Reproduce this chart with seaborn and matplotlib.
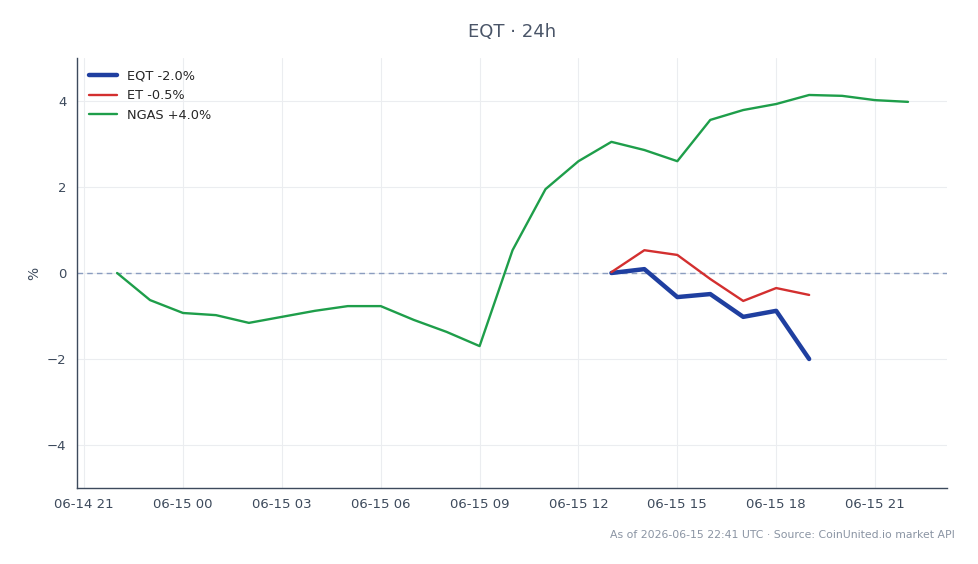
import pandas as pd
import numpy as np
import matplotlib.pyplot as plt
import matplotlib.dates as mdates
import seaborn as sns

# --- Data (hourly % change) ---
NGAS_START = "2026-06-14 22:00"
NGAS_VALUES = [0.0, -0.63, -0.93, -0.98, -1.16, -1.02, -0.88, -0.77, -0.77,
               -1.09, -1.37, -1.70, 0.53, 1.95, 2.60, 3.05, 2.86, 2.60,
               3.56, 3.79, 3.93, 4.14, 4.12, 4.02, 3.98]

PEER_START = "2026-06-15 13:00"
EQT_VALUES = [0.0, 0.09, -0.56, -0.49, -1.02, -0.88, -2.0]
ET_VALUES = [0.02, 0.53, 0.42, -0.14, -0.65, -0.35, -0.51]

LABELS = ["EQT -2.0%", "ET -0.5%", "NGAS +4.0%"]
COLORS = ["#1f3fa0", "#d32f2f", "#1e9e4a"]
WIDTHS = [3.2, 1.7, 1.7]

TITLE = "EQT · 24h"
FOOTER = "As of 2026-06-15 22:41 UTC · Source: CoinUnited.io market API"


def build_frame():
    frames = []
    peer_times = pd.date_range(PEER_START, periods=len(EQT_VALUES), freq="h")
    ngas_times = pd.date_range(NGAS_START, periods=len(NGAS_VALUES), freq="h")
    frames.append(pd.DataFrame({"time": peer_times, "pct": EQT_VALUES, "series": LABELS[0]}))
    frames.append(pd.DataFrame({"time": peer_times, "pct": ET_VALUES, "series": LABELS[1]}))
    frames.append(pd.DataFrame({"time": ngas_times, "pct": NGAS_VALUES, "series": LABELS[2]}))
    return pd.concat(frames, ignore_index=True)


df = build_frame()

sns.set_style("white")
plt.rcParams['font.family'] = ['DejaVu Sans']

fig = plt.figure(figsize=(9.79, 5.64), dpi=100)
ax = fig.add_axes([77 / 979, 1 - 488 / 564, (947 - 77) / 979, (488 - 58) / 564])

for label, color, lw in zip(LABELS, COLORS, WIDTHS):
    sub = df[df["series"] == label]
    sns.lineplot(data=sub, x="time", y="pct", ax=ax, color=color,
                 linewidth=lw, label=label, zorder=3)

# zero reference line
ax.axhline(0, color="#8b9dc0", linestyle=(0, (4, 3)), linewidth=1.0, zorder=2)

ax.set_ylim(-5, 5)
ax.set_xlim(pd.Timestamp("2026-06-14 20:47"), pd.Timestamp("2026-06-15 23:11"))
ax.set_yticks([-4, -2, 0, 2, 4])
ax.set_yticklabels(["\u22124", "\u22122", "0", "2", "4"])
ax.xaxis.set_major_locator(mdates.HourLocator(byhour=[0, 3, 6, 9, 12, 15, 18, 21]))
ax.xaxis.set_major_formatter(mdates.DateFormatter("%m-%d %H"))

ax.grid(True, color="#ebedf0", linewidth=0.8)
ax.set_axisbelow(True)
for side in ["top", "right"]:
    ax.spines[side].set_visible(False)
for side in ["left", "bottom"]:
    ax.spines[side].set_color("#3d4a5c")
    ax.spines[side].set_linewidth(1.0)

ax.tick_params(axis="both", colors="#3d4a5c", labelsize=9.5, length=4,
               labelcolor="#3d4a5c")
ax.set_xlabel("")
ax.set_ylabel("%", color="#3d4a5c", fontsize=10)

ax.set_title(TITLE, color="#4a5568", fontsize=13, pad=15)

leg = ax.legend(loc="upper left", frameon=False, fontsize=9.3,
                handlelength=2.2, borderaxespad=0.5)

fig.text(955 / 979, 1 - 535 / 564, FOOTER, ha="right", va="center",
         fontsize=7.8, color="#8a94a3")

fig.savefig("out.png", dpi=100)
